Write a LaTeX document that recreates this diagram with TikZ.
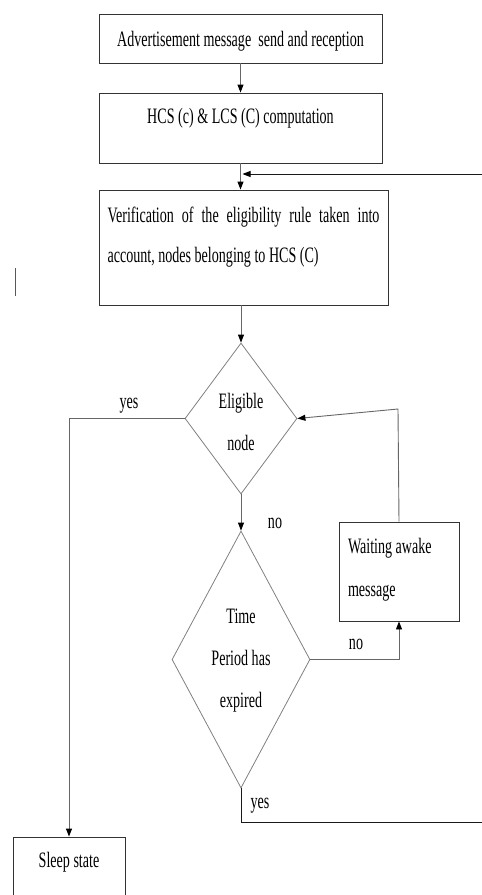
\documentclass[tikz,border=0pt]{standalone}
\usepackage{fontspec}
\setmainfont{Liberation Serif}[FakeStretch=0.64]
\usetikzlibrary{arrows.meta,shapes,positioning}

\tikzset{
  box/.style={draw=black!80, line width=0.9pt, inner sep=0pt, text height=16pt,
    font=\fontsize{22}{42}\selectfont},
  decision/.style={diamond, draw=black!50, line width=0.8pt, align=center, inner sep=0pt,
    text depth=5pt, font=\fontsize{22}{42}\selectfont},
  lbl/.style={font=\fontsize{22}{26}\selectfont, inner sep=0pt, anchor=base},
  link/.style={draw=black!60, line width=0.9pt, -{Triangle[length=8pt,width=6pt,color=black]}},
  plain/.style={draw=black!90, line width=0.9pt},
}

\begin{document}
\begin{tikzpicture}[x=1pt,y=-1pt]
\useasboundingbox (0,0) rectangle (482,895);

% process boxes
\node[box, minimum width=283pt, minimum height=49pt, text depth=0pt] (advert) at (240.5,38.5)
  {Advertisement message\ \ send and reception};
\node[box, minimum width=283pt, minimum height=70pt, text depth=26pt] (compute) at (240.5,128)
  {HCS (c) \& LCS (C) computation};
\node[box, text width=272pt, align=justify, inner xsep=8.5pt, minimum height=115pt,
  text depth=67pt, font=\fontsize{22}{40}\selectfont] (verify) at (243.5,247.5)
  {Verification of the eligibility rule taken into\linebreak account, nodes belonging to HCS (C)};

% decisions
\node[decision, aspect=0.8, minimum width=112pt, minimum height=151pt, text height=68pt] (eligible) at (241,418.5)
  {Eligible\\node};
\node[decision, aspect=0.55, minimum width=138pt, minimum height=257pt, text height=100pt] (expired) at (241,659.5)
  {Time\\Period has\\expired};

\node[box, text width=102pt, align=flush left, inner xsep=9pt, minimum height=99pt,
  text depth=53pt, font=\fontsize{22}{43}\selectfont] (waiting) at (399,571.5)
  {Waiting awake message};
\node[box, minimum width=112pt, minimum height=70pt, text depth=26pt] (sleep) at (69,872)
  {Sleep state};

% labels
\node[lbl] (yesA) at (129,408) {yes};
\node[lbl] (noA) at (275,528) {no};
\node[lbl] (noB) at (356,649) {no};
\node[lbl] (yesB) at (260,808) {yes};

\coordinate (fbin) at (482,174);
\coordinate (wturn) at (398,409);
\coordinate (yout) at (482,822);

% connectors
\draw[link] (advert) -- (compute);
\draw[link] (compute.south) -- (compute.south |- verify.north);
\draw[link, draw=black!90] (fbin) -- ([xshift=2pt]fbin -| compute.south);
\draw[link] (eligible.north |- verify.south) -- (eligible.north);
\draw[link] (eligible.west) -| (sleep.north);
\draw[link] (eligible.south) -- (expired.north);
\draw[link] (expired.east) -| (waiting.south);
\draw[link] (waiting.north) -- (wturn) -- (eligible.east);
\draw[plain] (expired.south) |- (yout);

\draw[black!65, line width=1.5pt] (15.5,268) -- (15.5,296);
\end{tikzpicture}
\end{document}
